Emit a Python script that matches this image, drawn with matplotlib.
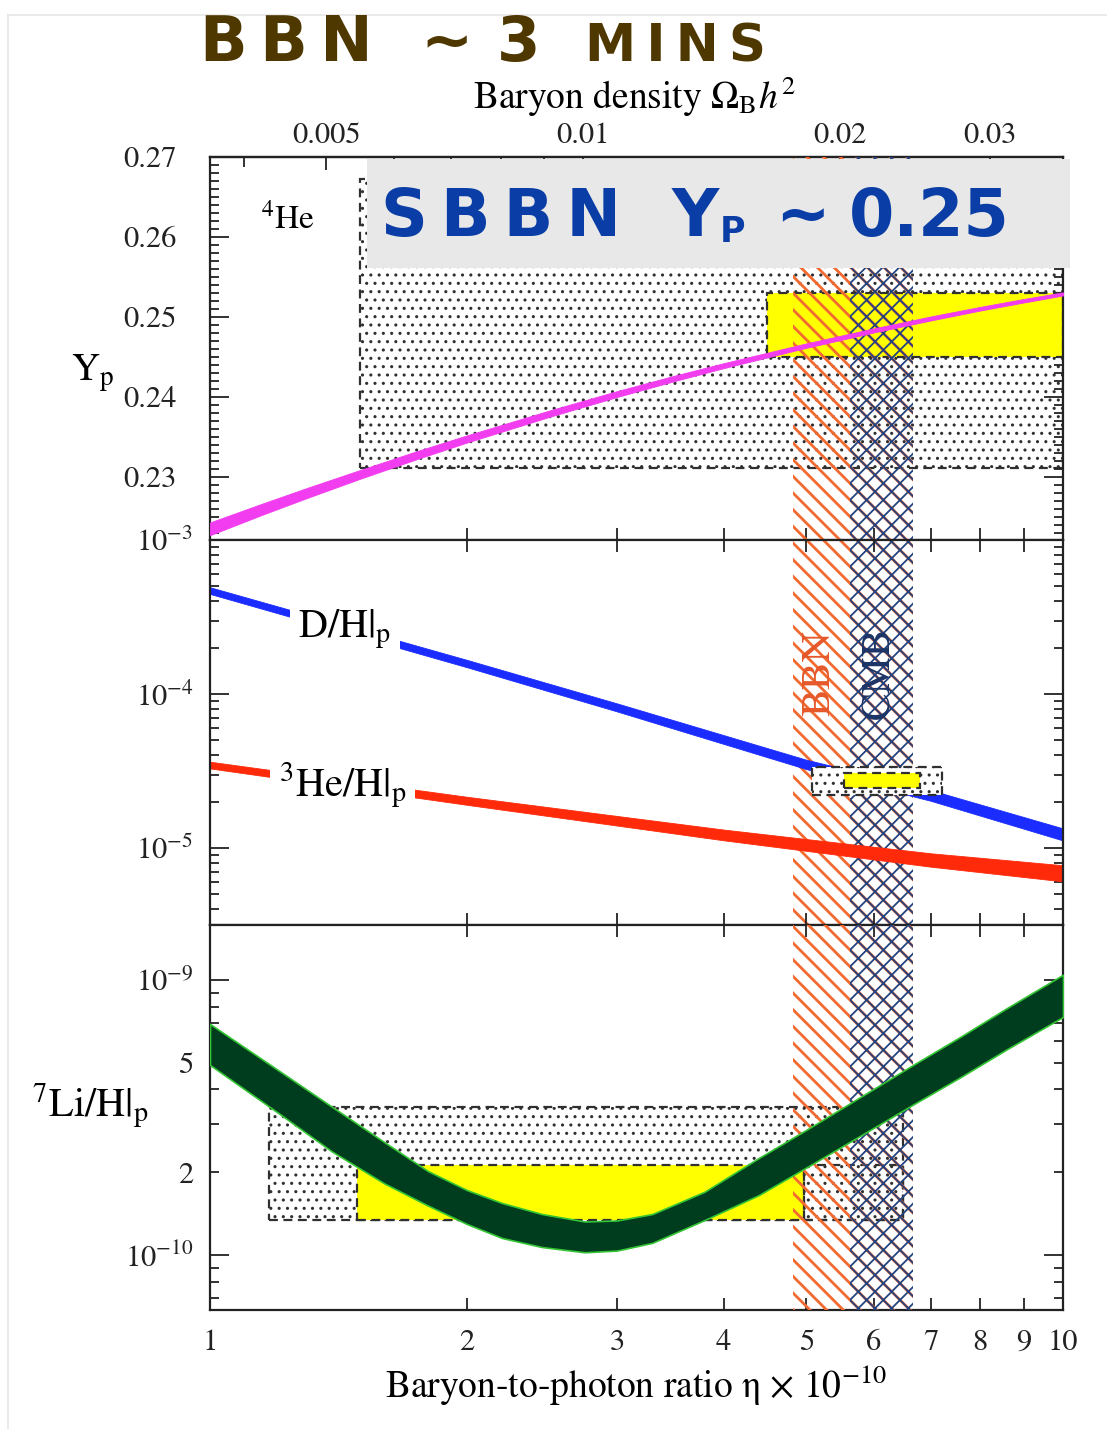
import numpy as np
import matplotlib
matplotlib.use("Agg")
import matplotlib.pyplot as plt
from matplotlib.patches import Rectangle
from matplotlib.lines import Line2D
from matplotlib.ticker import FixedLocator, NullLocator, NullFormatter, LogLocator, FuncFormatter

# ---------------- data ----------------
# 4He mass fraction vs eta (x 1e-10)
eta_he4 = [1.0, 1.15, 1.3, 1.5, 1.75, 2.0, 2.5, 3.0, 3.5, 4.0, 5.0, 6.0, 7.0, 8.0, 9.0, 10.0]
yp_he4 = [0.2235, 0.22593, 0.22799, 0.23031, 0.23273, 0.23473, 0.2379, 0.24035, 0.2423,
          0.2439, 0.24641, 0.24831, 0.24981, 0.25103, 0.25203, 0.25288]
yp_he4_err = [0.0008, 0.0007, 0.00063, 0.00055, 0.0005, 0.00045, 0.0004, 0.00037, 0.00034,
              0.00031, 0.00028, 0.00026, 0.00025, 0.00023, 0.00022, 0.0002]

# D/H and 3He/H
eta_dh = [1.0, 2.0, 3.0, 5.0, 7.0, 10.0]
dh = [4.7e-4, 1.58e-4, 8.2e-5, 3.5e-5, 2.2e-5, 1.23e-5]
dh_rel_err = [0.05, 0.055, 0.06, 0.07, 0.08, 0.09]

eta_he3 = [1.0, 2.0, 4.0, 7.0, 10.0]
he3 = [3.46e-5, 2.03e-5, 1.22e-5, 8.4e-6, 6.9e-6]
he3_rel_err = [0.05, 0.06, 0.08, 0.10, 0.12]

# 7Li/H band edges (units of 1e-10)
eta_li = [1.0, 1.2, 1.39, 1.6, 1.8, 2.0, 2.2, 2.45, 2.75, 3.0, 3.3, 3.8, 4.4, 5.0, 5.8,
          6.7, 7.6, 8.6, 10.0]
li_hi = [6.92, 4.716, 3.459, 2.576, 2.021, 1.723, 1.545, 1.409, 1.324, 1.335, 1.409, 1.698,
         2.254, 2.85, 3.77, 4.95, 6.245, 7.915, 10.45]
li_lo = [4.909, 3.300, 2.379, 1.823, 1.514, 1.297, 1.153, 1.069, 1.023, 1.038, 1.107, 1.340,
         1.652, 2.08, 2.727, 3.552, 4.452, 5.608, 7.34]

# observational boxes: (eta_min, eta_max, y_min, y_max)
he4_obs_wide = [1.50, 10.0, 0.2311, 0.2672]
he4_obs = [4.50, 10.0, 0.2450, 0.2530]
dh_obs_wide = [5.08, 7.22, 2.21e-5, 3.36e-5]
dh_obs = [5.53, 6.79, 2.45e-5, 3.07e-5]
li_obs_wide = [1.173, 6.5, 1.34e-10, 3.45e-10]
li_obs = [1.487, 4.97, 1.34e-10, 2.12e-10]

# concordance bands in eta
bbn_band = [4.82, 6.67]
cmb_band = [5.63, 6.67]

# axis ticks
eta_ticks = [1, 2, 3, 4, 5, 6, 7, 8, 9, 10]
omega_major = [0.005, 0.01, 0.02, 0.03]
omega_minor = [0.004, 0.006, 0.007, 0.008, 0.009]
yp_ticks = [0.23, 0.24, 0.25, 0.26, 0.27]
ETA_PER_OMEGA = 273.9

# ---------------- style ----------------
plt.rcParams.update({
    'font.family': ['STIXGeneral', 'DejaVu Sans'],
    'mathtext.fontset': 'stix',
    'axes.linewidth': 1.6,
    'axes.edgecolor': '#222222',
    'xtick.color': '#222222',
    'ytick.color': '#222222',
    'hatch.linewidth': 2.0,
})

ORANGE = '#f26a30'
NAVY = '#24437e'
DOT = '#303030'
YELLOW = '#ffff00'
MAGENTA = '#f23cf0'
BLUE = '#1a2cff'
RED = '#ff2a0a'
GREEN_D = '#003d1e'
GREEN_L = '#33c433'

W, H = 1107, 1429
fig = plt.figure(figsize=(W / 100, H / 100), dpi=100)


def fx(px):
    return px / W


def fy(py):
    return 1 - py / H


def rect(top, bottom):
    return [fx(210), fy(bottom), (1063 - 210) / W, (bottom - top) / H]


ax1 = fig.add_axes(rect(157, 540))
ax2 = fig.add_axes(rect(540, 925))
ax3 = fig.add_axes(rect(925, 1310))

for ax in (ax1, ax2, ax3):
    ax.set_xscale('log')
    ax.set_xlim(1, 10)
    ax.xaxis.set_major_locator(FixedLocator(eta_ticks))
    ax.xaxis.set_minor_locator(NullLocator())
    ax.tick_params(which='both', direction='in', top=True, right=True, width=1.3)
    ax.tick_params(axis='x', which='major', length=8.5)
    ax.tick_params(axis='y', which='major', length=14, labelsize=22)
    ax.tick_params(axis='y', which='minor', length=6.5, labelsize=22)

ax1.tick_params(axis='x', top=False, labelbottom=False)
ax2.tick_params(axis='x', labelbottom=False)
ax3.set_xticks(eta_ticks, [str(t) for t in eta_ticks])
ax3.tick_params(axis='x', labelsize=22, pad=14)


def set_hlw(p, lw):
    if hasattr(p, 'set_hatch_linewidth'):
        p.set_hatch_linewidth(lw)


def add_bands(ax, z):
    p = ax.axvspan(bbn_band[0], bbn_band[1], facecolor='none', edgecolor=ORANGE,
                   hatch='\\\\', lw=0, zorder=z)
    set_hlw(p, 2.0)
    q = ax.axvspan(cmb_band[0], cmb_band[1], facecolor='none', edgecolor=NAVY,
                   hatch='xx', lw=0, zorder=z + 0.1)
    set_hlw(q, 1.3)


def add_box(ax, box, face, z, stipple=False):
    x0, x1, y0, y1 = box
    r = Rectangle((x0, y0), x1 - x0, y1 - y0, facecolor=face, edgecolor=DOT,
                  lw=1.6, ls=(0, (4, 2.5)), hatch='..' if stipple else None, zorder=z)
    if stipple:
        set_hlw(r, 1.05)
    ax.add_patch(r)
    return r


# ---- 4He panel ----
ax1.set_ylim(0.2221, 0.27)
ax1.set_yticks(yp_ticks, [f'{t:.2f}' for t in yp_ticks])
ax1.yaxis.set_minor_locator(FixedLocator(np.arange(0.223, 0.2700, 0.001)))
ax1.tick_params(axis='y', which='both', pad=24)
add_box(ax1, he4_obs_wide, 'white', 1, stipple=True)
add_box(ax1, he4_obs, YELLOW, 2)
add_bands(ax1, 3)
yp = np.array(yp_he4)
ype = np.array(yp_he4_err)
ax1.fill_between(eta_he4, yp - ype, yp + ype, color=MAGENTA, lw=0.6, zorder=4)
ax1.text(1.234, 0.2622, r'$^{4}$He', fontsize=24, ha='center', va='center')

sec = ax1.secondary_xaxis('top', functions=(lambda e: e / ETA_PER_OMEGA,
                                            lambda o: o * ETA_PER_OMEGA))
sec.set_xticks(omega_major, [f'{o:g}' for o in omega_major])
sec.xaxis.set_minor_locator(FixedLocator(omega_minor))
sec.xaxis.set_minor_formatter(NullFormatter())
sec.tick_params(which='both', direction='in', width=1.3, labelsize=22, pad=5)
sec.tick_params(which='major', length=9)
sec.tick_params(which='minor', length=7)

# ---- D/H and 3He panel ----
ax2.set_yscale('log')
ax2.set_ylim(10 ** -5.5, 1e-3)
ax2.set_yticks([1e-5, 1e-4, 1e-3], [r'$10^{-5}$', r'$10^{-4}$', r'$10^{-3}$'])
ax2.yaxis.set_minor_locator(LogLocator(base=10, subs=np.arange(2, 10)))
ax2.yaxis.set_minor_formatter(NullFormatter())
ax2.tick_params(axis='y', which='both', pad=12)
add_bands(ax2, 1)
d = np.array(dh)
de = np.array(dh_rel_err)
ax2.fill_between(eta_dh, d * (1 - de), d * (1 + de), color=BLUE, lw=0.6, zorder=2)
h3 = np.array(he3)
h3e = np.array(he3_rel_err)
ax2.fill_between(eta_he3, h3 * (1 - h3e), h3 * (1 + h3e), color=RED, lw=0.6, zorder=2)
add_box(ax2, dh_obs_wide, 'white', 3, stipple=True)
add_box(ax2, dh_obs, YELLOW, 4)
ax2.text(1.44, 2.61e-4, r'D/H$|_{\rm p}$', fontsize=29, ha='center', va='center', zorder=5,
         bbox=dict(facecolor='white', edgecolor='none', pad=6))
ax2.text(1.43, 2.56e-5, r'$^{3}$He/H$|_{\rm p}$', fontsize=29, ha='center', va='center', zorder=5,
         bbox=dict(facecolor='white', edgecolor='none', pad=6))
ax2.text(5.19, 1.37e-4, 'BBN', fontsize=30, color='#e5582a', rotation=90,
         ha='center', va='center', zorder=5)
ax2.text(6.10, 1.37e-4, 'CMB', fontsize=30, color='#1c3466', rotation=90,
         ha='center', va='center', zorder=5)

# ---- 7Li panel ----
ax3.set_yscale('log')
ax3.set_ylim(10 ** -10.2, 10 ** -8.8)
ax3.set_yticks([1e-10, 1e-9], [r'$10^{-10}$', r'$10^{-9}$'])
ax3.yaxis.set_minor_locator(LogLocator(base=10, subs=np.arange(2, 10)))


def li_minor(v, pos):
    if abs(v - 2e-10) < 1e-12:
        return '2'
    if abs(v - 5e-10) < 1e-12:
        return '5'
    return ''


ax3.yaxis.set_minor_formatter(FuncFormatter(li_minor))
ax3.tick_params(axis='y', which='both', pad=12)
add_box(ax3, li_obs_wide, 'white', 1, stipple=True)
add_box(ax3, li_obs, YELLOW, 2)
add_box(ax3, [li_obs[1], li_obs_wide[1], li_obs[2], li_obs[3]], 'none', 2)
add_bands(ax3, 3)
ax3.fill_between(eta_li, np.array(li_lo) * 1e-10, np.array(li_hi) * 1e-10,
                 facecolor=GREEN_D, edgecolor=GREEN_L, lw=1.2, zorder=4)

# ---- axis labels ----
fig.text(fx(634), fy(97), r'Baryon density $\Omega_{\rm B}h^2$', fontsize=27,
         ha='center', va='center')
fig.text(fx(636), fy(1386), r'Baryon-to-photon ratio η × 10$^{-10}$', fontsize=27,
         ha='center', va='center')
fig.text(fx(93), fy(373), r'Y$_{\rm p}$', fontsize=28, ha='center', va='center')
fig.text(fx(90), fy(1106), r'$^{7}$Li/H$|_{\rm p}$', fontsize=29, ha='center', va='center')

# ---- headline and callout ----
fig.add_artist(Line2D([fx(8), fx(8)], [fy(15), 0], color='#e6e6e6', lw=1.2))
fig.add_artist(Line2D([fx(8), 1], [fy(15), fy(15)], color='#e6e6e6', lw=1.2))

sans = ['DejaVu Sans']
BROWN = '#4f3800'
fig.text(fx(200), fy(61), 'B\u2009B\u2009N', fontsize=45, fontweight='bold', color=BROWN,
         family=sans, va='baseline', ha='left')
fig.text(fx(420), fy(61), '~', fontsize=45, fontweight='bold', color=BROWN,
         family=sans, va='baseline', ha='left')
fig.text(fx(497), fy(61), '3', fontsize=45, fontweight='bold', color=BROWN,
         family=sans, va='baseline', ha='left')
fig.text(fx(585), fy(61), 'M\u2009I\u2009N\u2009S', fontsize=37, fontweight='bold', color=BROWN,
         family=sans, va='baseline', ha='left')

fig.add_artist(Rectangle((fx(367), fy(268)), (1070 - 367) / W, (268 - 159) / H,
                         transform=fig.transFigure, facecolor='#e8e8e8',
                         edgecolor='none', zorder=10))
BLUE_T = '#0a3ea6'
fig.text(fx(381), fy(236), 'S\u2009B\u2009B\u2009N', fontsize=47, fontweight='bold',
         color=BLUE_T, family=sans, va='baseline', ha='left', zorder=11)
fig.text(fx(672), fy(236), 'Y', fontsize=47, fontweight='bold',
         color=BLUE_T, family=sans, va='baseline', ha='left', zorder=11)
fig.text(fx(720), fy(242), 'P', fontsize=25, fontweight='bold',
         color=BLUE_T, family=sans, va='baseline', ha='left', zorder=11)
fig.text(fx(775), fy(236), '~', fontsize=47, fontweight='bold',
         color=BLUE_T, family=sans, va='baseline', ha='left', zorder=11)
fig.text(fx(849), fy(236), '0.25', fontsize=47, fontweight='bold',
         color=BLUE_T, family=sans, va='baseline', ha='left', zorder=11)

fig.savefig('out.png', dpi=100)
